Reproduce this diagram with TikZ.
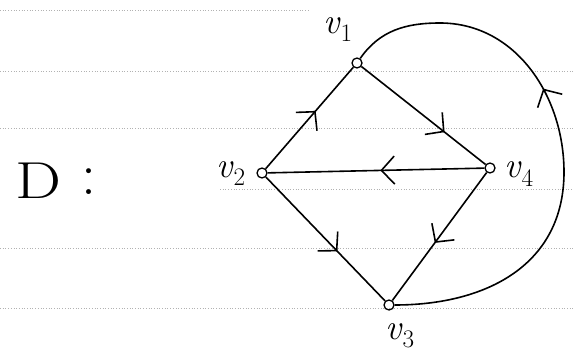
\documentclass[tikz,border=0pt]{standalone}
\usetikzlibrary{decorations.markings,arrows.meta}
\begin{document}
\begin{tikzpicture}[x=1pt,y=1pt,
  vtx/.style={circle,draw,line width=1.3pt,minimum size=10pt,inner sep=0pt},
  edge/.style={line width=1.6pt},
  ruling/.style={gray!60,dotted,line width=0.7pt},
  lbl/.style={font=\fontsize{36}{40}\selectfont,inner sep=0pt},
  midarrow/.style={postaction={decorate},decoration={markings,
    mark=at position #1 with {\arrow{Straight Barb[length=13pt,width=28pt,line width=1.6pt]}}}}]
\useasboundingbox (0,0) rectangle (573,-361);
% ruled paper lines
\draw[ruling] (0,-10) -- (310,-10);
\draw[ruling] (0,-71) -- (573,-71);
\draw[ruling] (0,-128) -- (573,-128);
\draw[ruling] (220,-189) -- (573,-189);
\draw[ruling] (0,-248) -- (573,-248);
\draw[ruling] (0,-308) -- (573,-308);
% title
\node[font=\fontsize{52}{56}\selectfont,xscale=1.25,inner sep=0pt] (D) at (38,-181) {D};
\node[font=\fontsize{60}{64}\selectfont,inner sep=0pt] (colon) at (89,-182) {:};
% vertices
\node[vtx] (v1) at (357,-63) {};
\node[vtx] (v2) at (262,-173) {};
\node[vtx] (v4) at (490,-168) {};
\node[vtx] (v3) at (389,-305) {};
% labels
\node[lbl] (l1) at (338,-30) {\textit{v}\textsubscript{1}};
\node[lbl] (l2) at (231,-174) {\textit{v}\textsubscript{2}};
\node[lbl] (l4) at (519,-174) {\textit{v}\textsubscript{4}};
\node[lbl] (l3) at (400,-336) {\textit{v}\textsubscript{3}};
% edges
\draw[edge,midarrow=0.57] (v2) -- (v1);
\draw[edge,midarrow=0.67] (v1) -- (v4);
\draw[edge,midarrow=0.48] (v4) -- (v2);
\draw[edge,midarrow=0.6] (v2) -- (v3);
\draw[edge,midarrow=0.55] (v4) -- (v3);
\coordinate (top) at (440,-23);
\coordinate (rgt) at (564,-172);
\draw[edge,midarrow=0.6] (v3.east) to[out=0,in=-90,looseness=1.1] (rgt)
  to[out=90,in=0] (top) to[out=180,in=55] (v1);
\end{tikzpicture}
\end{document}
